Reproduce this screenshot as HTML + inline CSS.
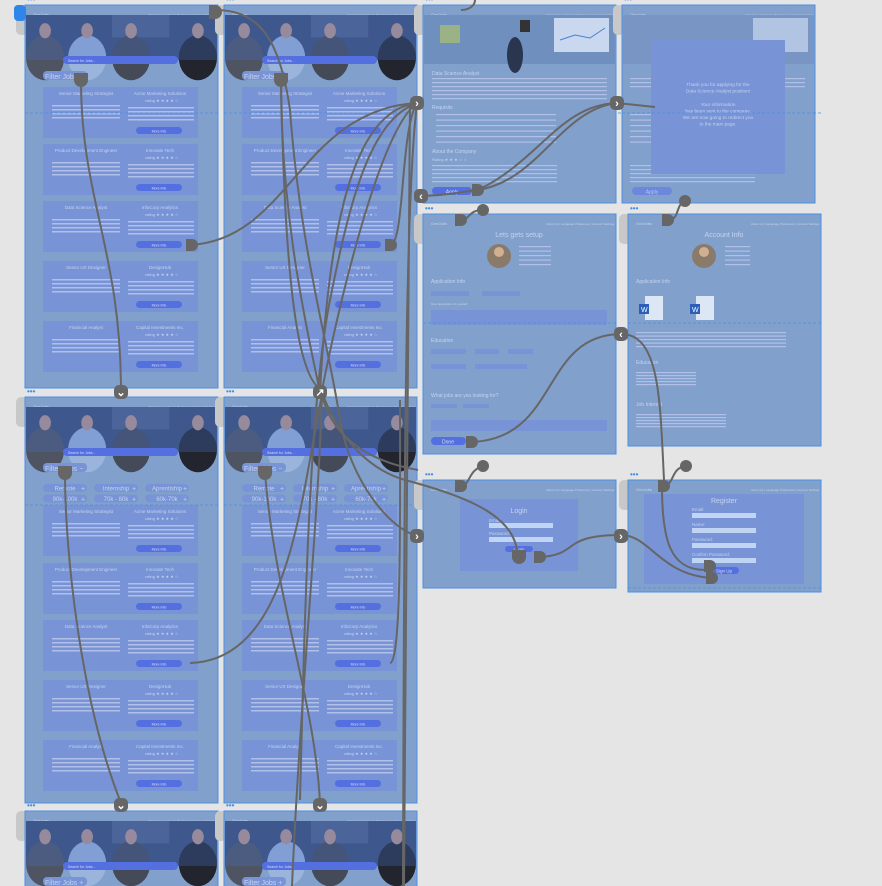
<!DOCTYPE html>
<html><head><meta charset="utf-8">
<style>
html,body{margin:0;padding:0;background:#e5e5e5;width:882px;height:886px;overflow:hidden}
svg{display:block;font-family:"Liberation Sans",sans-serif}
</style></head>
<body>
<svg id="s" width="882" height="886" viewBox="0 0 882 886" xmlns="http://www.w3.org/2000/svg"></svg>
<script>
const S=document.getElementById('s');let h='';
const F='#82a0cc',B='#4a90e2',C='#7894d6',BT='#5470e0',TX='#c5d3f0',G='#666';
function frame(x,y,w,hh){
 h+=`<rect x="${x-9}" y="${y}" width="12" height="${Math.min(30,hh)}" rx="5" fill="#c8c8c8"/>`;
 h+=`<rect x="${x}" y="${y}" width="${w}" height="${hh}" fill="${F}" stroke="${B}" stroke-width="1"/>`;
 h+=`<text x="${x+2}" y="${y-3}" font-size="8" fill="${B}" font-weight="bold">•••</text>`;
 h+=`<text x="${x+8}" y="${y+11}" font-size="4" fill="${TX}">OneJobs</text>`;
 h+=`<text x="${x+w-70}" y="${y+11}" font-size="3" fill="${TX}">About Us | Language Preference | Account Settings</text>`;
}
function photo(x,y,w,hh){
 h+=`<rect x="${x}" y="${y}" width="${w}" height="${hh}" fill="#3a4c74"/>`;
 h+=`<rect x="${x+w*0.45}" y="${y}" width="${w*0.3}" height="${hh*0.5}" fill="#5a6c94" opacity="0.6"/>`;
 [[0.1,'#4e5462'],[0.32,'#9ab4dc'],[0.55,'#444a58'],[0.9,'#22242e']].forEach(([f,c])=>{
  h+=`<ellipse cx="${x+w*f}" cy="${y+hh*0.95}" rx="${w*0.1}" ry="${hh*0.5}" fill="${c}"/>`;
  h+=`<ellipse cx="${x+w*f}" cy="${y+hh*0.35}" rx="${hh*0.13}" ry="${hh*0.17}" fill="#b8958a"/>`;});
 h+=`<rect x="${x}" y="${y}" width="${w}" height="${hh}" fill="#4a70c8" opacity="0.3"/>`;
}
const jobs=[['Senior Marketing Strategist','Acme Marketing Solutions'],['Product Development Engineer','Innovate Tech'],['Data Science Analyst','InfoCorp Analytics'],['Senior UX Designer','DesignHub'],['Financial Analyst','Capital Investments Inc.']];
function listing(x,y,hh,expanded,cardYs){
 frame(x,y,193,hh);
 photo(x+1,y+10,191,45);
 h+=`<rect x="${x+38}" y="${y+51}" width="115" height="8" rx="4" fill="${BT}"/><text x="${x+43}" y="${y+57}" font-size="3.5" fill="#dde">Search for Jobs...</text>`;
 h+=`<rect x="${x+18}" y="${y+66}" width="44" height="9" rx="4" fill="${C}"/><text x="${x+20}" y="${y+74}" font-size="7" fill="${TX}">Filter Jobs  ${expanded?'−':'+'}</text>`;
 if(expanded){
  const t=[['Remote','Internship','Aprentiship'],['90k-100k','70k - 80k','60k-70k'],['10 miles','15 miles','20 miles']];
  t.forEach((r,i)=>r.forEach((s,j)=>{const xx=x+18+j*51,yy=y+87+i*10.5;
   h+=`<rect x="${xx}" y="${yy}" width="44" height="8" rx="4" fill="${C}"/><text x="${xx+22}" y="${yy+6.5}" font-size="6" fill="${TX}" text-anchor="middle">${s}</text><text x="${xx+38}" y="${yy+7}" font-size="7" fill="${TX}">+</text>`;}));
 }
 cardYs.forEach((cy,i)=>{if(cy+51>y+hh)return;
  h+=`<rect x="${x+18}" y="${cy}" width="155" height="51" fill="${C}"/>`;
  h+=`<text x="${x+61}" y="${cy+8}" font-size="4.5" fill="${TX}" text-anchor="middle">${jobs[i][0]}</text>`;
  h+=`<text x="${x+135}" y="${cy+8}" font-size="4.5" fill="${TX}" text-anchor="middle">${jobs[i][1]}</text>`;
  h+=`<text x="${x+120}" y="${cy+15}" font-size="4" fill="${TX}">rating ★ ★ ★ ★ ☆</text>`;
  for(let k=0;k<4;k++){h+=`<rect x="${x+27}" y="${cy+18+k*4}" width="68" height="1.5" fill="#b0c0e8"/><rect x="${x+103}" y="${cy+20+k*4}" width="66" height="1.5" fill="#b0c0e8"/>`;}
  h+=`<rect x="${x+111}" y="${cy+40}" width="46" height="7" rx="3.5" fill="${BT}"/><text x="${x+134}" y="${cy+45.5}" font-size="3.5" fill="#dde" text-anchor="middle">More Info</text>`;
 });
}
const r1=[87,144,201,261,321],r2=[505,563,620,680,740],r3=[915];
listing(25,5,383,false,r1);listing(224,5,383,false,r1);
listing(25,397,406,true,r2);listing(224,397,406,true,r2);
listing(25,811,90,false,r3);listing(224,811,90,false,r3);
[[25,113,193],[224,113,193],[25,505,193],[224,505,193],[423,113,398]].forEach(([x,y,w])=>h+=`<line x1="${x}" y1="${y}" x2="${x+w}" y2="${y}" stroke="${B}" stroke-dasharray="3,2" stroke-width="0.8"/>`);
frame(423,5,193,198);
h+=`<rect x="424" y="15" width="191" height="49" fill="#6f8fbf"/><rect x="554" y="18" width="55" height="34" fill="#c9d8ee"/><polyline points="560,40 575,35 590,38 605,28" stroke="#4a7fd0" fill="none"/><rect x="440" y="25" width="20" height="18" fill="#b9c960" opacity="0.6"/><rect x="520" y="20" width="10" height="12" fill="#333"/><ellipse cx="515" cy="55" rx="8" ry="18" fill="#2a3550"/>`;
function lines(x,y,n,w,gap){for(let k=0;k<n;k++)h+=`<rect x="${x}" y="${y+k*gap}" width="${w}" height="1.2" fill="#b0c0e8"/>`;}
h+=`<text x="432" y="75" font-size="5" fill="${TX}">Data Science Analyst</text>`;lines(432,78,3,175,4);lines(432,90,3,175,4);
h+=`<text x="432" y="109" font-size="5" fill="${TX}">Requisits</text>`;lines(436,114,6,120,5.5);
h+=`<text x="432" y="153" font-size="5" fill="${TX}">About the Company</text><text x="432" y="161" font-size="4" fill="${TX}">Rating ★ ★ ★ ☆ ☆</text>`;lines(432,165,5,125,4);
h+=`<rect x="432" y="187" width="40" height="8" rx="4" fill="${BT}"/><text x="452" y="193.5" font-size="5" fill="#dde" text-anchor="middle">Apply</text>`;
frame(622,5,193,198);
h+=`<rect x="623" y="15" width="191" height="49" fill="#7995c4"/><rect x="753" y="18" width="55" height="34" fill="#c9d8ee" opacity="0.7"/>`;
lines(630,78,3,175,4);lines(630,114,6,120,5.5);lines(630,165,5,125,4);
h+=`<rect x="632" y="187" width="40" height="8" rx="4" fill="#6b88dc"/><text x="652" y="193.5" font-size="5" fill="#b8c8ee" text-anchor="middle">Apply</text>`;
h+=`<rect x="651" y="40" width="134" height="134" fill="#7894d6"/>`;
['Thank you for applying for the','Data Science Analyst position!','','Your information','has been sent to the company.','We are now going to redirect you','to the main page.'].forEach((t,i)=>h+=`<text x="718" y="${86+i*6.6}" font-size="4.8" fill="${TX}" text-anchor="middle">${t}</text>`);
h+=`<line x1="622" y1="113" x2="815" y2="113" stroke="${B}" stroke-dasharray="3,2" stroke-width="0.8"/>`;
frame(423,214,193,240);
h+=`<text x="519" y="237" font-size="7" fill="${TX}" text-anchor="middle">Lets gets setup</text><circle cx="499" cy="256" r="12" fill="#8a7a6a"/><circle cx="499" cy="252" r="5" fill="#d0b090"/>`;
lines(519,246,5,32,4.5);
h+=`<text x="431" y="283" font-size="5" fill="${TX}">Application Info</text><rect x="431" y="291" width="38" height="5" fill="${C}"/><rect x="482" y="291" width="38" height="5" fill="${C}"/><text x="431" y="305" font-size="3" fill="${TX}">Give description of yourself</text><rect x="431" y="310" width="176" height="15" fill="${C}"/>`;
h+=`<text x="431" y="342" font-size="5" fill="${TX}">Education</text><rect x="431" y="349" width="35" height="5" fill="${C}"/><rect x="475" y="349" width="24" height="5" fill="${C}"/><rect x="508" y="349" width="25" height="5" fill="${C}"/><rect x="431" y="364" width="35" height="5" fill="${C}"/><rect x="475" y="364" width="52" height="5" fill="${C}"/>`;
h+=`<text x="431" y="397" font-size="5" fill="${TX}">What jobs are you looking for?</text><rect x="431" y="404" width="26" height="4" fill="${C}"/><rect x="463" y="404" width="26" height="4" fill="${C}"/><rect x="431" y="420" width="176" height="11" fill="${C}"/>`;
h+=`<rect x="431" y="437" width="35" height="8" rx="4" fill="${BT}"/><text x="448" y="443.5" font-size="5" fill="#dde" text-anchor="middle">Done</text>`;
h+=`<line x1="423" y1="323" x2="616" y2="323" stroke="${B}" stroke-dasharray="3,2" stroke-width="0.8"/>`;
frame(628,214,193,232);
h+=`<text x="724" y="237" font-size="7" fill="${TX}" text-anchor="middle">Account Info</text><circle cx="704" cy="256" r="12" fill="#8a7a6a"/><circle cx="704" cy="252" r="5" fill="#d0b090"/>`;
lines(725,246,5,25,4.5);
h+=`<text x="636" y="283" font-size="5" fill="${TX}">Application Info</text>`;
[[639,296],[690,296]].forEach(([x,y])=>h+=`<rect x="${x+6}" y="${y}" width="18" height="24" fill="#dde6f5"/><rect x="${x}" y="${y+8}" width="10" height="10" fill="#2b5fb8"/><text x="${x+2}" y="${y+16}" font-size="7" fill="#fff">W</text>`);
lines(636,332,5,150,3.5);h+=`<text x="636" y="364" font-size="5" fill="${TX}">Education</text>`;lines(636,372,5,60,3);
h+=`<text x="636" y="406" font-size="5" fill="${TX}">Job Interest</text>`;lines(636,414,5,90,3);
h+=`<line x1="628" y1="323" x2="821" y2="323" stroke="${B}" stroke-dasharray="3,2" stroke-width="0.8"/>`;
frame(423,480,193,108);
h+=`<rect x="460" y="499" width="118" height="72" fill="#7894d6"/><text x="519" y="513" font-size="7" fill="${TX}" text-anchor="middle">Login</text><text x="489" y="522" font-size="4.5" fill="${TX}">Email:</text><rect x="489" y="523" width="64" height="5" fill="#c0d4f4"/><text x="489" y="535" font-size="4.5" fill="${TX}">Password:</text><rect x="489" y="537" width="64" height="5" fill="#c0d4f4"/><rect x="505" y="546" width="28" height="6" rx="3" fill="${BT}"/><text x="519" y="551" font-size="4.5" fill="#dde" text-anchor="middle">Login</text>`;
frame(628,480,193,112);
h+=`<rect x="644" y="494" width="160" height="90" fill="#7894d6"/><text x="724" y="503" font-size="7" fill="${TX}" text-anchor="middle">Register</text>`;
['Email:','Name:','Password:','Confirm Password:'].forEach((t,i)=>h+=`<text x="692" y="${511+i*15}" font-size="4.5" fill="${TX}">${t}</text><rect x="692" y="${513+i*15}" width="64" height="5" fill="#c0d4f4"/>`);
h+=`<rect x="709" y="567" width="30" height="7" rx="3.5" fill="${BT}"/><text x="724" y="572.5" font-size="4.5" fill="#dde" text-anchor="middle">Sign Up</text><line x1="628" y1="588" x2="821" y2="588" stroke="${B}" stroke-dasharray="3,2" stroke-width="0.8"/>`;
h+=`<rect x="14" y="5" width="12" height="16" rx="4" fill="#2f86e8"/>`;
const P=['M81,80 C81,200 121,250 121,392','M190,245 C290,240 300,110 417,103','M215,10 C260,10 280,40 290,110 C300,250 330,350 340,420 C350,480 390,530 418,536',
'M281,80 C281,200 300,300 320,392','M281,80 C285,300 300,380 322,390','M390,245 C405,245 400,130 417,103',
'M417,103 C360,110 330,200 320,392','M417,103 C370,120 350,200 330,300 C310,400 305,600 300,800','M417,103 C380,130 340,300 322,390 C320,500 300,700 292,886','M417,103 C405,200 404,500 403,886','M410,103 C408,300 406,600 404,886',
'M65,473 C65,550 80,700 121,803','M265,473 C275,600 315,700 320,803','M190,663 C290,660 300,500 322,395 C330,430 360,460 418,470','M390,663 C402,663 400,500 400,400',
'M323,395 C340,440 370,470 405,480 C480,500 518,520 518,560',
'M478,190 C540,160 560,105 617,103','M478,190 C540,180 560,110 617,103','M417,196 C450,196 470,190 478,190','M617,103 L655,107',
'M461,220 C470,220 468,210 483,210','M461,10 C470,10 475,5 475,0','M668,220 C680,220 675,205 685,201',
'M470,442 C560,440 540,335 621,334','M621,334 C660,334 660,400 664,480',
'M664,485 C675,485 670,468 686,466','M461,486 C470,486 468,470 483,466','M662,486 C662,540 670,570 705,570','M621,535 C650,535 660,575 712,578','M540,557 C580,555 560,535 621,535'];
P.forEach(d=>h+=`<path d="${d}" stroke="${G}" stroke-width="2" fill="none"/>`);
const half=(x,y)=>h+=`<path d="M${x-6},${y-6} h6 a6,6 0 0 1 0,12 h-6 z" fill="${G}"/>`;
[[192,245],[391,245],[478,190],[461,220],[668,220],[461,486],[664,486],[540,557],[712,578],[472,442],[710,566]].forEach(([x,y])=>half(x,y));
const down=(x,y)=>h+=`<path d="M${x-7},${y-7} h14 v7 a7,7 0 0 1 -14,0 z" fill="${G}"/>`;
[[81,80],[281,80],[65,473],[265,473],[519,557]].forEach(([x,y])=>down(x,y));
h+=`<path d="M209,5 h6 a7,7 0 0 1 0,14 h-6 z" fill="${G}"/>`;
[[483,210],[685,201],[483,466],[686,466]].forEach(([x,y])=>h+=`<circle cx="${x}" cy="${y}" r="6" fill="${G}"/>`);
const chev=(x,y,t)=>{h+=`<rect x="${x-7}" y="${y-7}" width="14" height="14" rx="5" fill="${G}"/><text x="${x}" y="${y+4}" font-size="11" fill="#fff" text-anchor="middle" font-weight="bold">${t}</text>`;};
chev(121,392,'⌄');chev(121,805,'⌄');chev(320,392,'↗');chev(320,805,'⌄');chev(417,103,'›');chev(617,103,'›');chev(421,196,'‹');chev(621,334,'‹');chev(621,536,'›');chev(417,536,'›');
S.innerHTML=h;
</script>
</body></html>
